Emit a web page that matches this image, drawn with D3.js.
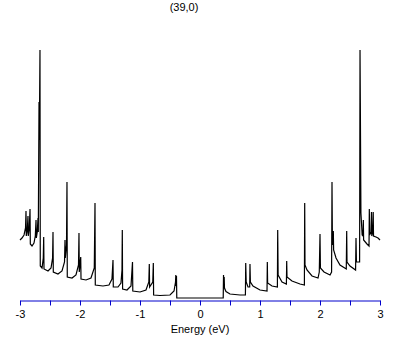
<!DOCTYPE html>
<html>
<head>
<meta charset="utf-8">
<script src="https://cdn.jsdelivr.net/npm/d3@7"></script>
<style>
  body { margin: 0; background: #fff; }
  text { font-family: "Liberation Sans", Arial, sans-serif; }
</style>
</head>
<body>
<svg id="dos" width="409" height="345"></svg>
<script>
// density of states of the (39,0) tube
let energy = [
  -3.000, -2.967, -2.933, -2.908, -2.900, -2.895, -2.878, -2.867, -2.862, -2.845,
  -2.833, -2.828, -2.800, -2.767, -2.745, -2.733, -2.728, -2.712, -2.700, -2.695,
  -2.683, -2.678, -2.667, -2.662, -2.633, -2.612, -2.605, -2.600, -2.533, -2.483,
  -2.457, -2.450, -2.445, -2.367, -2.300, -2.258, -2.250, -2.245, -2.225, -2.217,
  -2.212, -2.133, -2.067, -2.025, -2.017, -2.012, -1.988, -1.983, -1.900, -1.817,
  -1.762, -1.750, -1.745, -1.617, -1.517, -1.467, -1.450, -1.445, -1.367, -1.317,
  -1.300, -1.295, -1.290, -1.217, -1.150, -1.125, -1.120, -1.000, -0.900, -0.853,
  -0.845, -0.840, -0.787, -0.778, -0.773, -0.667, -0.500, -0.433, -0.408, -0.403,
  -0.398, -0.392, -0.387,
  0.387, 0.392, 0.397, 0.403, 0.408, 0.433, 0.500, 0.667, 0.757, 0.762,
  0.770, 0.800, 0.828, 0.833, 0.840, 0.883, 1.000, 1.117, 1.122, 1.127,
  1.200, 1.290, 1.295, 1.302, 1.367, 1.440, 1.445, 1.450, 1.533, 1.667,
  1.740, 1.745, 1.750, 1.783, 1.867, 1.967, 1.988, 2.000, 2.007, 2.067,
  2.167, 2.193, 2.200, 2.207, 2.222, 2.227, 2.267, 2.333, 2.438, 2.445,
  2.450, 2.500, 2.593, 2.600, 2.607, 2.660, 2.667, 2.672, 2.682, 2.703,
  2.717, 2.722, 2.727, 2.783, 2.817, 2.822, 2.827, 2.850, 2.858, 2.863,
  2.878, 2.887, 2.892, 2.933, 2.967, 3.000
]
let dos = [
  0.58, 0.60, 0.63, 0.70, 0.87, 0.62, 0.68, 0.82, 0.62, 0.70,
  0.89, 0.54, 0.52, 0.55, 0.62, 0.78, 0.60, 0.66, 0.80, 0.66,
  1.96, 1.58, 2.48, 0.32, 0.30, 0.40, 0.61, 0.29, 0.27, 0.30,
  0.40, 0.66, 0.26, 0.24, 0.27, 0.36, 0.58, 0.40, 0.53, 1.16,
  0.21, 0.20, 0.23, 0.33, 0.65, 0.26, 0.41, 0.19, 0.18, 0.20,
  0.30, 0.95, 0.13, 0.12, 0.13, 0.19, 0.38, 0.11, 0.11, 0.15,
  0.28, 0.68, 0.09, 0.08, 0.12, 0.36, 0.07, 0.06, 0.08, 0.16,
  0.34, 0.11, 0.16, 0.35, 0.03, 0.025, 0.03, 0.07, 0.16, 0.23,
  0.12, 0.22, 0.00,
  0.00, 0.23, 0.13, 0.21, 0.10, 0.065, 0.04, 0.03, 0.03, 0.35,
  0.16, 0.11, 0.11, 0.34, 0.16, 0.12, 0.08, 0.07, 0.36, 0.15,
  0.12, 0.11, 0.68, 0.23, 0.16, 0.14, 0.37, 0.21, 0.17, 0.14,
  0.13, 0.95, 0.33, 0.28, 0.22, 0.20, 0.26, 0.64, 0.30, 0.26,
  0.23, 0.26, 1.16, 0.53, 0.67, 0.48, 0.40, 0.33, 0.29, 0.67,
  0.36, 0.32, 0.28, 0.60, 0.36, 0.36, 2.48, 1.96, 0.85, 0.63,
  0.62, 0.78, 0.58, 0.54, 0.52, 0.89, 0.63, 0.66, 0.86, 0.62,
  0.66, 0.86, 0.62, 0.61, 0.60, 0.58
]
let tickVals = [-3, -2.5, -2, -1.5, -1, -0.5, 0, 0.5, 1, 1.5, 2, 2.5, 3]
let title = "(39,0)"
let xTitle = "Energy (eV)"

let svg = d3.select("#dos")

let x = d3.scaleLinear()
    .domain([-3, 3])
    .range([20, 380])
let y = d3.scaleLinear()
    .domain([0, 2.5])
    .range([298, 48])

let pts = energy.map((e, i) => [e, dos[i]])

let line = d3.line()
    .x(d => x(d[0]))
    .y(d => y(d[1]))

svg.append("path")
    .datum(pts)
    .attr("d", line)
    .attr("fill", "none")
    .attr("stroke", "black")
    .attr("stroke-width", 1.2)
    .attr("stroke-linejoin", "miter")

// x axis, blue
let axis = svg.append("g")
    .attr("transform", "translate(0,300.5)")
    .call(d3.axisBottom(x)
        .tickValues(tickVals)
        .tickSize(5)
        .tickSizeOuter(0)
        .tickFormat(d => Number.isInteger(d) ? String(d) : ""))

axis.select(".domain").attr("stroke", "#0000cc").attr("stroke-width", 1)
axis.selectAll(".tick line").attr("stroke", "#0000cc")
axis.selectAll(".tick text")
    .attr("fill", "black")
    .attr("font-size", 11)
    .attr("y", 9)
    .attr("dy", "0.75em")

svg.append("text")
    .attr("x", 200)
    .attr("y", 333)
    .attr("text-anchor", "middle")
    .attr("font-size", 11)
    .text(xTitle)

svg.append("text")
    .attr("x", 184)
    .attr("y", 11)
    .attr("text-anchor", "middle")
    .attr("font-size", 11)
    .text(title)
</script>
</body>
</html>
